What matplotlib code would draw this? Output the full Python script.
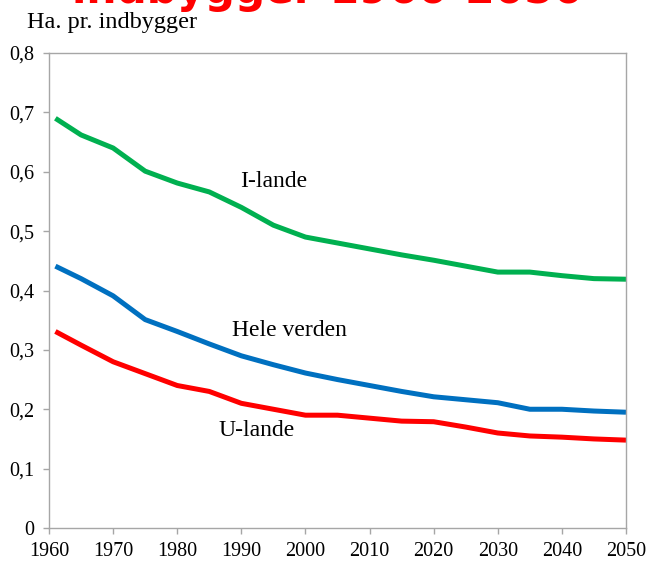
import matplotlib
matplotlib.use("Agg")
import matplotlib.pyplot as plt
from matplotlib.ticker import FuncFormatter

years = [1961, 1965, 1970, 1975, 1980, 1985, 1990, 1995, 2000, 2005, 2010,
         2015, 2020, 2025, 2030, 2035, 2040, 2045, 2050]
i_lande = [0.690, 0.662, 0.640, 0.601, 0.581, 0.566, 0.540, 0.510, 0.490, 0.480,
           0.470, 0.460, 0.451, 0.441, 0.431, 0.431, 0.425, 0.420, 0.419]
hele_verden = [0.441, 0.420, 0.391, 0.351, 0.331, 0.310, 0.290, 0.275, 0.261, 0.250,
               0.240, 0.230, 0.221, 0.216, 0.211, 0.200, 0.200, 0.197, 0.195]
u_lande = [0.331, 0.308, 0.280, 0.260, 0.240, 0.230, 0.210, 0.200, 0.190, 0.190,
           0.185, 0.180, 0.179, 0.170, 0.160, 0.155, 0.153, 0.150, 0.148]

series_names = ["I-lande", "Hele verden", "U-lande"]
series_colors = ["#00B050", "#0070C0", "#FF0000"]
label_pos = [(1989.8, 0.584), (1988.5, 0.333), (1986.4, 0.165)]

x_ticks = list(range(1960, 2051, 10))
y_ticks = [0, 0.1, 0.2, 0.3, 0.4, 0.5, 0.6, 0.7, 0.8]

W, H = 649, 563
fig = plt.figure(figsize=(W / 100, H / 100), dpi=100)
ax = fig.add_axes([49 / W, (H - 528) / H, (626 - 49) / W, (528 - 53) / H])

serif = ["Liberation Serif", "DejaVu Serif"]
for vals, name, col, (lx, ly) in zip([i_lande, hele_verden, u_lande], series_names,
                                     series_colors, label_pos):
    ax.plot(years, vals, color=col, lw=3.6, solid_joinstyle="round", solid_capstyle="butt")
    ax.text(lx, ly, name, ha="left", va="center", fontsize=17, family=serif, color="black")

ax.set_xlim(1960, 2050)
ax.set_ylim(0, 0.8)
ax.set_xticks(x_ticks)
ax.set_yticks(y_ticks)


def yfmt(v, pos):
    if abs(v) < 1e-9:
        return "0"
    return f"{v:.1f}".replace(".", ",")


ax.yaxis.set_major_formatter(FuncFormatter(yfmt))
frame_col = "#A6A6A6"
for sp in ax.spines.values():
    sp.set_color(frame_col)
    sp.set_linewidth(1.0)
ax.tick_params(axis="both", direction="out", length=4.3, width=1.0, color=frame_col,
               labelsize=14.5, labelcolor="black")
ax.tick_params(axis="y", pad=6.5)
ax.tick_params(axis="x", pad=5.5)
for lab in ax.get_xticklabels() + ax.get_yticklabels():
    lab.set_family(serif)

fig.text(27 / W, 1 - 28 / H, "Ha. pr. indbygger", ha="left", va="baseline",
         fontsize=17.5, family=serif, color="black")

# partially cropped title at the very top
fig.text(328 / W, 1 - 3 / H, "indbygger 1960-2050", ha="center", va="baseline",
         fontsize=30.5, fontweight="bold", family="DejaVu Sans", color="#FF0000")

fig.savefig("out.png", dpi=100)
